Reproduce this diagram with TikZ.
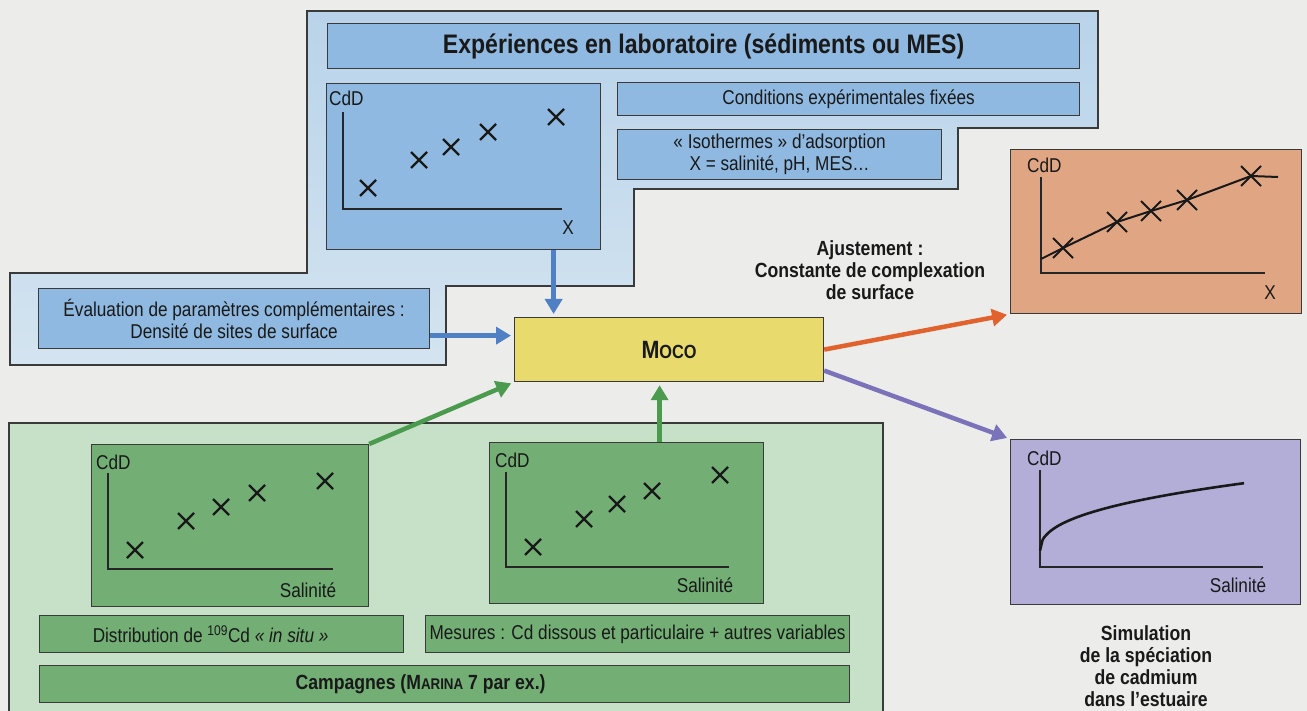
\documentclass[tikz,border=0pt]{standalone}
\usepackage{fontspec}
\setmainfont{Liberation Sans}[FakeStretch=0.86]
\usetikzlibrary{arrows.meta}
\definecolor{bg}{HTML}{ECECEA}
\definecolor{outerA}{HTML}{B9D3EA}
\definecolor{outerB}{HTML}{D4E4F0}
\definecolor{innerblue}{HTML}{8FB9E0}
\definecolor{mocoyellow}{HTML}{E8DA6C}
\definecolor{orangebox}{HTML}{E0A684}
\definecolor{purplebox}{HTML}{B3AED8}
\definecolor{greenlight}{HTML}{C7E0C8}
\definecolor{greeninner}{HTML}{73AE75}
\definecolor{arrblue}{HTML}{4F80C4}
\definecolor{arrgreen}{HTML}{4B9B4E}
\definecolor{arrorange}{HTML}{E2622E}
\definecolor{arrpurple}{HTML}{7B73BA}
\definecolor{border}{HTML}{3A3A3A}
\begin{document}
\begin{tikzpicture}[x=1pt,y=-1pt,
  every node/.style={font=\fontsize{20}{22}\selectfont, text=black!90},
  box/.style={draw=border, line width=1.2pt, inner sep=0pt, anchor=north west, align=center},
  boldtxt/.style={font=\fontsize{20.5}{22}\selectfont\bfseries, align=center},
  lbl/.style={inner sep=0pt},
  axis/.style={draw=black!85, line width=1.3pt},
  arr/.style={line width=4.5pt, -{Triangle[length=15pt,width=17pt]}, shorten >=3pt},
  xmark/.pic={\draw[line width=2.3pt, black!90] (-8,-8) -- (8,8) (-8,8) -- (8,-8);},
  bigxmark/.pic={\draw[line width=1.8pt, black!90] (-10,-10) -- (10,10) (-10,10) -- (10,-10);}
]
\useasboundingbox (0,0) rectangle (1307,711);
\fill[bg] (0,0) rectangle (1307,711);

% outer containers
\path[draw=border, line width=1.2pt, top color=outerA, bottom color=outerB]
  (307,11) -- (1098,11) -- (1098,128) -- (958,128) -- (958,189) -- (634,189)
  -- (634,286) -- (446,286) -- (446,365) -- (10,365) -- (10,273) -- (307,273) -- cycle;
\path[draw=border, line width=1.2pt, fill=greenlight]
  (9,423) rectangle (883,716);

% blue boxes
\node[box, fill=innerblue, minimum width=752pt, minimum height=45pt,
      font=\fontsize{26.8}{30}\selectfont\bfseries] (exp) at (327,23)
      {Expériences en laboratoire (sédiments ou MES)};
\node[box, fill=innerblue, minimum width=274pt, minimum height=166pt] (labg) at (326,83) {};
\node[box, fill=innerblue, minimum width=462pt, minimum height=33pt] (cond) at (617,82)
      {Conditions expérimentales fixées};
\node[box, fill=innerblue, minimum width=324pt, minimum height=50pt] (iso) at (617,129)
      {« Isothermes » d'adsorption\\X = salinité, pH, MES…};
\node[box, fill=innerblue, minimum width=391pt, minimum height=60pt] (eval) at (38,288)
      {Évaluation de paramètres complémentaires :\\Densité de sites de surface};

% MOCO
\node[box, fill=mocoyellow, minimum width=309pt, minimum height=64pt,
      font=\fontsize{25}{28}\selectfont\bfseries] (moco) at (514,317)
      {M{\fontsize{19}{20}\selectfont OCO}};

% green boxes
\node[box, fill=greeninner, minimum width=277pt, minimum height=162pt] (g1) at (91,444) {};
\node[box, fill=greeninner, minimum width=274pt, minimum height=161pt] (g2) at (489,442) {};
\node[box, fill=greeninner, minimum width=364pt, minimum height=37pt] (dist) at (39,615)
      {Distribution de \textsuperscript{109}Cd \textit{« in situ »}\hspace*{22pt}};
\node[box, fill=greeninner, minimum width=424pt, minimum height=37pt] (mes) at (425,615)
      {Mesures : Cd dissous et particulaire + autres variables};
\node[box, fill=greeninner, minimum width=810pt, minimum height=37pt,
      font=\fontsize{20.5}{22}\selectfont\bfseries] (camp) at (39,665)
      {Campagnes (M{\fontsize{15.5}{17}\selectfont ARINA} 7 par ex.)\hspace*{48pt}};

% result boxes
\node[box, fill=orangebox, minimum width=291pt, minimum height=164pt] (org) at (1010,149) {};
\node[box, fill=purplebox, minimum width=290pt, minimum height=165pt] (pur) at (1010,439) {};

\node[boldtxt] (ajust) at (870,270) {Ajustement :\\Constante de complexation\\de surface};
\node[boldtxt] (simul) at (1146,666) {Simulation\\de la spéciation\\de cadmium\\dans l'estuaire};

% lab graph content
\node[lbl, anchor=west] (cdd0) at (329,98) {CdD};
\draw[axis] (343,112) -- (343,209) -- (562,209);
\node[lbl] (xl0) at (568,228) {X};
\foreach \p in {(368,188),(419,160),(451,147),(488,132),(556,117)} \pic at \p {xmark};

% green graph 1
\node[lbl, anchor=west] (cdd1) at (96,462) {CdD};
\draw[axis] (108,473) -- (108,569) -- (333,569);
\node[lbl] (sal1) at (308,590) {Salinité};
\foreach \p in {(135,550),(186,521),(221,507),(257,493),(325,481)} \pic at \p {xmark};

% green graph 2
\node[lbl, anchor=west] (cdd2) at (495,460) {CdD};
\draw[axis] (506,472) -- (506,567) -- (729,567);
\node[lbl] (sal2) at (705,585) {Salinité};
\foreach \p in {(533,547),(584,519),(617,504),(652,491),(720,475)} \pic at \p {xmark};

% orange graph
\node[lbl, anchor=west] (cdd3) at (1027,165) {CdD};
\draw[axis] (1041,177) -- (1041,273) -- (1265,273);
\node[lbl] (xl3) at (1270,293) {X};
\draw[line width=2pt, black!90] (1041,259) -- (1063,248) -- (1117,222) -- (1151,211)
  -- (1187,200) -- (1251,176) -- (1278,177);
\foreach \p in {(1063,248),(1117,222),(1151,211),(1187,200),(1251,176)} \pic at \p {bigxmark};

% purple graph
\node[lbl, anchor=west] (cdd4) at (1027,458) {CdD};
\draw[axis] (1040,470) -- (1040,567) -- (1263,567);
\node[lbl] (sal4) at (1238,585) {Salinité};
\draw[line width=2.6pt, black!90, domain=0.01:204, samples=80, smooth, variable=\t]
  plot ({1040+\t},{552-8.2*(\t)^0.4});

% arrows
\draw[arr, arrblue] ([xshift=90pt]labg.south) -- ([xshift=90pt]labg.south |- moco.north);
\draw[arr, arrblue] ([yshift=-17pt]eval.east) -- ([yshift=-17pt]eval.east -| moco.west);
\draw[arr, arrgreen] (g1.north east) -- (moco.south west);
\draw[arr, arrgreen] ([xshift=33pt]g2.north) -- ([xshift=33pt]g2.north |- moco.south);
\draw[arr, arrorange] (moco.east) -- (org.south west);
\draw[arr, arrpurple] ([yshift=-21pt]moco.east) -- (pur.north west);
\end{tikzpicture}
\end{document}
